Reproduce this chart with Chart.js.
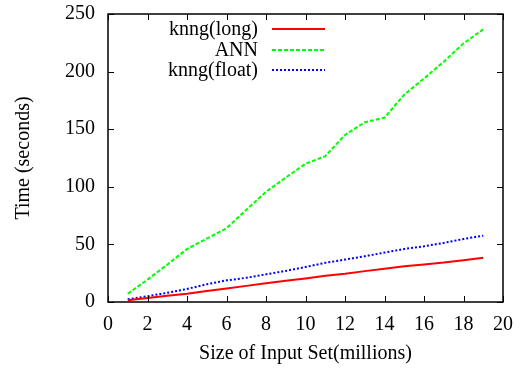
<!DOCTYPE html>
<html>
<head>
<meta charset="utf-8">
<script src="https://cdn.jsdelivr.net/npm/chart.js@4"></script>
<style>
  html, body { margin: 0; padding: 0; background: #fff; }
  #wrap { width: 524px; height: 370px; }
</style>
</head>
<body>
<div id="wrap"><canvas id="c" width="524" height="370"></canvas></div>
<script>
// values
var sizes = [1, 2, 3, 4, 5, 6, 7, 8, 9, 10, 11, 12, 13, 14, 15, 16, 17, 18, 19];
var knngLong = [1.5, 3.5, 5.5, 7.2, 9.5, 11.8, 14, 16.3, 18.4, 20.5, 22.8, 24.5, 26.8, 28.8, 31, 32.5, 34.2, 36.3, 38.5];
var annTimes = [7.2, 19.4, 32.4, 46, 55, 64, 80, 95.6, 108, 120, 126.6, 145, 156, 160, 180, 194, 208.6, 224.5, 236.7];
var knngFloat = [2.3, 5, 8, 11.3, 15.4, 18.8, 21, 24, 27, 30.4, 34, 36.8, 39.7, 42.9, 46, 48.4, 51.3, 54.7, 57.6];
var xTicks = [0, 2, 4, 6, 8, 10, 12, 14, 16, 18, 20];
var yTicks = [0, 50, 100, 150, 200, 250];

var FONT = '"Liberation Serif", "Times New Roman", serif';
var FSIZE = 20;

function toPoints(vals) {
    return vals.map(function (v, i) { return { x: sizes[i], y: v }; });
}

var series = [
    { label: 'knng(long)', data: knngLong, color: '#ff0000', dash: [] },
    { label: 'ANN', data: annTimes, color: '#00ff00', dash: [4, 2] },
    { label: 'knng(float)', data: knngFloat, color: '#0000ff', dash: [2, 2] }
];

// gnuplot style frame: border, inward ticks on all four sides, legend top left
var framePlugin = {
    id: 'frame',
    afterDatasetsDraw: function (chart) {
        var ctx = chart.ctx;
        var a = chart.chartArea;
        var xs = chart.scales.x, ys = chart.scales.y;
        var tl = 6;
        ctx.save();
        ctx.strokeStyle = '#000';
        ctx.lineWidth = 1;
        ctx.setLineDash([]);
        ctx.beginPath();
        xTicks.forEach(function (t) {
            var px = Math.round(xs.getPixelForValue(t)) + 0.5;
            ctx.moveTo(px, a.bottom); ctx.lineTo(px, a.bottom - tl);
            ctx.moveTo(px, a.top); ctx.lineTo(px, a.top + tl);
        });
        yTicks.forEach(function (t) {
            var py = Math.round(ys.getPixelForValue(t)) + 0.5;
            ctx.moveTo(a.left, py); ctx.lineTo(a.left + tl, py);
            ctx.moveTo(a.right, py); ctx.lineTo(a.right - tl, py);
        });
        ctx.stroke();
        ctx.lineWidth = 1.5;
        ctx.strokeRect(a.left, a.top, a.right - a.left, a.bottom - a.top);

        // legend
        ctx.font = FSIZE + 'px ' + FONT;
        ctx.textAlign = 'right';
        ctx.textBaseline = 'middle';
        var rows = [29, 50, 70];
        series.forEach(function (s, i) {
            ctx.fillStyle = '#000';
            ctx.fillText(s.label, 258, rows[i] + 1);
            ctx.strokeStyle = s.color;
            ctx.lineWidth = 2;
            ctx.setLineDash(s.dash);
            ctx.beginPath();
            ctx.moveTo(272, rows[i]);
            ctx.lineTo(325, rows[i]);
            ctx.stroke();
        });
        ctx.restore();
    }
};

new Chart(document.getElementById('c').getContext('2d'), {
    type: 'line',
    data: {
        datasets: series.map(function (s) {
            return {
                label: s.label,
                data: toPoints(s.data),
                borderColor: s.color,
                borderWidth: 2,
                borderDash: s.dash,
                pointRadius: 0,
                tension: 0,
                fill: false
            };
        })
    },
    options: {
        responsive: false,
        animation: false,
        layout: { padding: { top: 14, right: 21, left: 0, bottom: 0 } },
        plugins: { legend: { display: false }, tooltip: { enabled: false } },
        scales: {
            x: {
                type: 'linear',
                min: 0, max: 20,
                afterBuildTicks: function (scale) {
                    scale.ticks = xTicks.map(function (v) { return { value: v }; });
                },
                afterFit: function (scale) {
                    scale.height = 68;
                    scale.paddingLeft = 0;
                    scale.paddingRight = 0;
                },
                grid: { display: false, drawTicks: false },
                border: { display: false },
                ticks: { color: '#000', font: { family: FONT, size: FSIZE }, padding: 11, maxRotation: 0 },
                title: { display: true, text: 'Size of Input Set(millions)', color: '#000', font: { family: FONT, size: FSIZE }, padding: { top: 6 } }
            },
            y: {
                type: 'linear',
                min: 0, max: 250,
                afterBuildTicks: function (scale) {
                    scale.ticks = yTicks.map(function (v) { return { value: v }; });
                },
                afterFit: function (scale) {
                    scale.width = 108;
                    scale.paddingTop = 0;
                    scale.paddingBottom = 0;
                },
                grid: { display: false, drawTicks: false },
                border: { display: false },
                ticks: { color: '#000', font: { family: FONT, size: FSIZE }, padding: 13 },
                title: { display: true, text: 'Time (seconds)', color: '#000', font: { family: FONT, size: FSIZE }, padding: { top: 12 } }
            }
        }
    },
    plugins: [framePlugin]
});
</script>
</body>
</html>
